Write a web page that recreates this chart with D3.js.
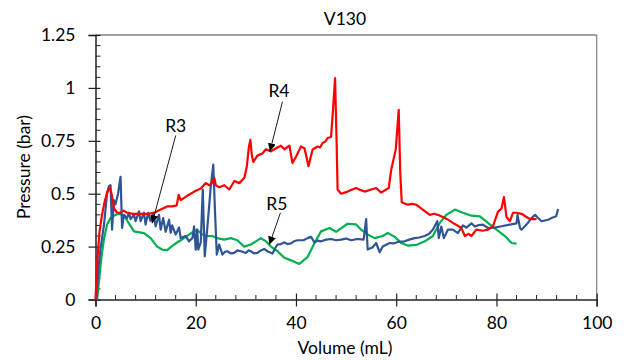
<!DOCTYPE html>
<html><head><meta charset="utf-8">
<script src="https://cdn.jsdelivr.net/npm/d3@7"></script>
<style>body{margin:0;background:#fff}svg{display:block}text{font-family:Lato,"Open Sans",sans-serif;fill:#000}</style>
</head><body>
<svg id="c" width="627" height="360"></svg>
<script>
const title = "V130";
const xLabel = "Volume (mL)";
const yLabel = "Pressure (bar)";
const xTicks = [0, 20, 40, 60, 80, 100];
const yTicks = [0, 0.25, 0.5, 0.75, 1, 1.25];
const yTickLabels = ["0", "0.25", "0.5", "0.75", "1", "1.25"];

const r4 = [[0,0],[0.4,0.2],[0.8,0.32],[1.3,0.40],[1.8,0.46],[2.4,0.51],[2.8,0.53],[3.2,0.5],[3.7,0.43],[4.3,0.41],[4.9,0.41],[5.6,0.42],[6.3,0.41],[7.5,0.405],[9,0.405],[10.5,0.405],[11.7,0.41],[13,0.425],[14.3,0.44],[15.3,0.44],[16.2,0.445],[16.6,0.495],[17,0.47],[18.3,0.49],[19.7,0.51],[21,0.525],[22,0.55],[22.7,0.54],[23.2,0.55],[23.7,0.575],[24,0.54],[24.7,0.53],[25.7,0.54],[26.7,0.52],[27.7,0.56],[28.7,0.55],[29.7,0.575],[30.2,0.63],[30.6,0.72],[30.9,0.755],[31.2,0.68],[31.5,0.65],[32.3,0.68],[33.3,0.69],[34,0.71],[35,0.70],[36,0.715],[37,0.727],[37.7,0.71],[38.7,0.727],[39.3,0.645],[40,0.675],[41,0.723],[41.7,0.715],[42.5,0.63],[43.3,0.708],[44.3,0.723],[44.8,0.718],[45.3,0.74],[45.8,0.745],[46.3,0.763],[47,0.768],[47.4,0.9],[47.8,1.046],[48.1,0.75],[48.3,0.52],[49,0.5],[50.3,0.51],[51.2,0.52],[52,0.527],[52.8,0.518],[53.7,0.51],[55,0.52],[56,0.527],[57,0.505],[58.5,0.527],[59,0.613],[59.9,0.708],[60.5,0.896],[60.8,0.6],[61.1,0.46],[62.3,0.448],[63.2,0.452],[64,0.448],[65.3,0.425],[66.7,0.40],[67.5,0.405],[68.3,0.40],[69.7,0.385],[70.5,0.375],[71.3,0.362],[72.2,0.35],[73,0.338],[73.7,0.30],[74.4,0.31],[75,0.30],[76,0.33],[77.3,0.325],[78.3,0.33],[79.3,0.346],[80.3,0.415],[81,0.43],[81.5,0.484],[82,0.39],[82.7,0.37],[83.3,0.41],[84,0.41],[85,0.405],[86,0.39],[86.7,0.38],[88,0.38]];

const r3 = [[0.2,0],[0.6,0.15],[1,0.24],[1.7,0.354],[2.3,0.50],[2.67,0.535],[3,0.54],[3.3,0.33],[3.67,0.47],[4,0.45],[4.5,0.5],[5,0.58],[5.3,0.338],[5.67,0.40],[6.3,0.385],[6.67,0.41],[7,0.38],[7.67,0.40],[8,0.37],[8.67,0.417],[9,0.37],[9.67,0.41],[10,0.354],[10.5,0.41],[11,0.37],[11.5,0.41],[12,0.346],[12.67,0.40],[13,0.33],[13.5,0.385],[14,0.32],[14.67,0.377],[15,0.315],[15.3,0.35],[16,0.307],[16.67,0.34],[17,0.29],[18,0.30],[18.67,0.275],[19.33,0.29],[19.67,0.346],[20,0.236],[20.3,0.33],[20.5,0.236],[21,0.27],[21.4,0.519],[21.8,0.204],[22.2,0.31],[22.67,0.44],[23,0.535],[23.5,0.637],[23.87,0.40],[24.2,0.212],[24.67,0.26],[25.33,0.212],[25.8,0.225],[26.3,0.228],[27,0.218],[27.67,0.22],[28.3,0.232],[29,0.228],[30,0.22],[30.5,0.232],[31,0.228],[31.6,0.218],[32.3,0.22],[33,0.232],[33.67,0.239],[34.3,0.228],[35.3,0.217],[35.8,0.24],[36.3,0.26],[37,0.262],[37.67,0.27],[38.3,0.262],[39,0.265],[39.6,0.275],[40.3,0.28],[41.5,0.28],[42.3,0.29],[43,0.296],[43.7,0.27],[44.3,0.278],[45,0.275],[46,0.283],[47,0.286],[48,0.28],[49,0.283],[50,0.288],[51,0.28],[52.2,0.286],[53.5,0.283],[54,0.38],[54.3,0.236],[55.3,0.247],[56,0.267],[56.7,0.223],[57.3,0.25],[58.7,0.267],[59.5,0.265],[60.3,0.272],[61.67,0.275],[62.6,0.283],[63.67,0.29],[64.6,0.293],[65.67,0.30],[66.5,0.31],[67.3,0.33],[68.2,0.37],[68.5,0.29],[69,0.345],[69.5,0.29],[70.3,0.33],[71.3,0.33],[72.3,0.314],[73.3,0.35],[74,0.34],[75,0.36],[75.67,0.345],[76.5,0.352],[77.3,0.354],[78.3,0.338],[79.67,0.34],[81,0.346],[82.67,0.354],[84,0.36],[84.2,0.40],[84.7,0.338],[85,0.33],[86,0.354],[87,0.385],[87.7,0.40],[88.3,0.385],[89,0.37],[90.3,0.377],[91,0.385],[91.9,0.393],[92.3,0.428]];

const r5 = [[0.33,0],[0.67,0.08],[1.13,0.19],[1.67,0.283],[2.3,0.354],[3,0.385],[4,0.40],[4.67,0.405],[5.3,0.40],[6,0.385],[6.67,0.36],[7.67,0.322],[9.67,0.314],[11,0.29],[12.3,0.25],[13.3,0.236],[14.3,0.233],[15.67,0.26],[17,0.28],[18.67,0.307],[20.2,0.33],[21.3,0.307],[22.3,0.30],[23.3,0.30],[24.3,0.29],[25.67,0.283],[27,0.29],[28.3,0.28],[29.67,0.25],[31,0.26],[32,0.275],[33,0.29],[34,0.275],[35,0.25],[36.33,0.228],[37.67,0.197],[39,0.185],[40.67,0.168],[42.3,0.2],[43.7,0.267],[45,0.322],[46.7,0.338],[48,0.32],[50.3,0.358],[52,0.355],[53,0.33],[54.3,0.307],[55.7,0.29],[57.3,0.30],[58.3,0.314],[59.7,0.296],[61,0.267],[62.3,0.255],[64,0.258],[65.7,0.275],[67.3,0.30],[68.7,0.362],[70,0.40],[71.7,0.425],[73.3,0.41],[75,0.396],[76.7,0.393],[78.3,0.362],[80,0.33],[81.7,0.30],[83,0.267],[84,0.264]];

const seriesNames = ["R3", "R4", "R5"];
const seriesColors = ["#2F5597", "#FF0000", "#00B050"];
// annotations: label position, arrow start, arrow tip (data units)
const annotations = [
  {label:"R3", lx:16, ly:0.82, x1:16, y1:0.775, x2:11.3, y2:0.36},
  {label:"R4", lx:36.6, ly:0.99, x1:37.3, y1:0.935, x2:34.8, y2:0.70},
  {label:"R5", lx:36.2, ly:0.455, x1:36.9, y1:0.41, x2:34.7, y2:0.26}
];

const svg = d3.select("#c");
const L = 95.5, R = 596.7, T = 35, B = 299.5;
const x = d3.scaleLinear().domain([0,100]).range([L,R]);
const y = d3.scaleLinear().domain([0,1.25]).range([B,T]);

svg.append("defs").append("marker").attr("id","ah").attr("viewBox","0 0 10 10")
  .attr("refX",10).attr("refY",5).attr("markerWidth",8).attr("markerHeight",8)
  .attr("markerUnits","userSpaceOnUse").attr("orient","auto")
  .append("path").attr("d","M0,0L10,5L0,10z").attr("fill","#000");

svg.append("line").attr("x1",L).attr("x2",R).attr("y1",T).attr("y2",T).attr("stroke","#808080").attr("stroke-width",1.5);
svg.append("line").attr("x1",R).attr("x2",R).attr("y1",T).attr("y2",B).attr("stroke","#808080").attr("stroke-width",1.2);

const xMinor = d3.range(0,101,4).filter(v=>v%20!==0);
svg.append("g").selectAll("line").data(xMinor).join("line")
  .attr("x1",d=>x(d)).attr("x2",d=>x(d)).attr("y1",B).attr("y2",B-4.5).attr("stroke","#222").attr("stroke-width",1);
const yMinor = d3.range(0,26).map(i=>i*0.05).filter(v=>Math.abs(v/0.25-Math.round(v/0.25))>1e-6);
svg.append("g").selectAll("line").data(yMinor).join("line")
  .attr("x1",L).attr("x2",L+5).attr("y1",d=>y(d)).attr("y2",d=>y(d)).attr("stroke","#222").attr("stroke-width",1);

const xAxis = svg.append("g").attr("transform",`translate(0,${B})`)
  .call(d3.axisBottom(x).tickValues(xTicks).tickSize(7).tickPadding(10).tickFormat(d3.format("d")));
xAxis.selectAll(".tick line").attr("y1",-6).attr("stroke","#222").attr("stroke-width",1.2);
xAxis.select(".domain").attr("stroke","#222").attr("stroke-width",1.5);
xAxis.selectAll("text").attr("font-size",17.5).attr("font-family","Lato");

const yAxis = svg.append("g").attr("transform",`translate(${L},0)`)
  .call(d3.axisLeft(y).tickValues(yTicks).tickSize(7).tickPadding(13).tickFormat((d,i)=>yTickLabels[i]));
yAxis.selectAll(".tick line").attr("x1",5).attr("stroke","#222").attr("stroke-width",1.2);
yAxis.select(".domain").attr("stroke","#222").attr("stroke-width",1.5);
yAxis.selectAll("text").attr("font-size",17.5).attr("font-family","Lato");

const line = d3.line().x(d=>x(d[0])).y(d=>y(d[1]));
const data = [r3, r4, r5];
[2,0,1].forEach(i=>{
  svg.append("path").datum(data[i]).attr("d",line).attr("fill","none")
    .attr("stroke",seriesColors[i]).attr("stroke-width",2.2).attr("stroke-linejoin","round");
});

annotations.forEach(a=>{
  svg.append("line").attr("x1",x(a.x1)).attr("y1",y(a.y1)).attr("x2",x(a.x2)).attr("y2",y(a.y2))
    .attr("stroke","#000").attr("stroke-width",0.9).attr("marker-end","url(#ah)");
  svg.append("text").attr("x",x(a.lx)).attr("y",y(a.ly)).attr("text-anchor","middle")
    .attr("dominant-baseline","central").attr("font-size",17.5).text(a.label);
});

svg.append("text").attr("x",345).attr("y",25).attr("text-anchor","middle").attr("font-size",17.5).text(title);
svg.append("text").attr("x",345).attr("y",354).attr("text-anchor","middle").attr("font-size",17.5).text(xLabel);
svg.append("text").attr("transform","translate(30,167) rotate(-90)").attr("text-anchor","middle").attr("font-size",17.5).text(yLabel);
</script>
</body></html>
